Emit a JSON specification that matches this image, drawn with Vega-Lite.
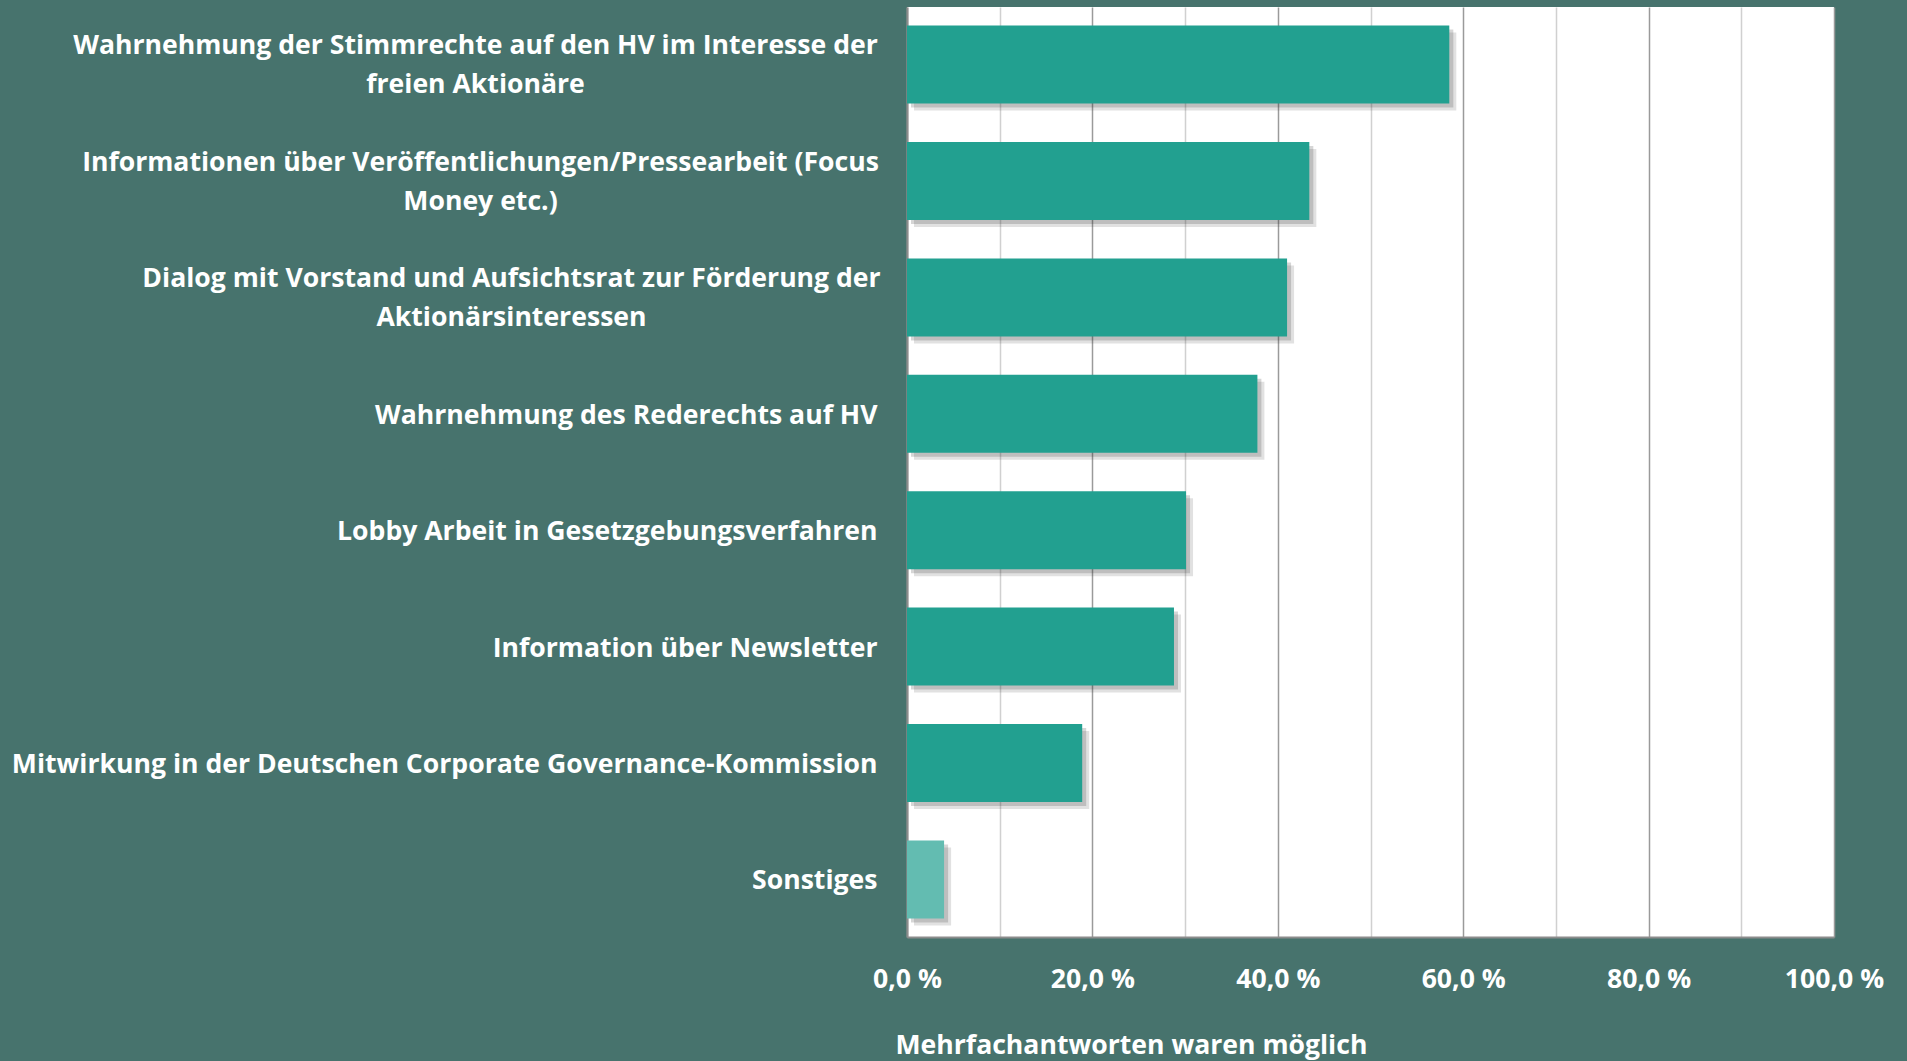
{
  "$schema": "https://vega.github.io/schema/vega-lite/v6.json",
  "width": 927,
  "height": 930,
  "autosize": {"type": "none"},
  "padding": {"left": 907, "top": 7, "right": 73, "bottom": 124},
  "background": "#47736D",
  "config": {"view": {"fill": "white", "stroke": null}},
  "data": {
    "values": [
      {"item": "Wahrnehmung der Stimmrechte auf den HV im Interesse der|freien Aktionäre", "pct": 58.5},
      {"item": "Informationen über Veröffentlichungen/Pressearbeit (Focus|Money etc.)", "pct": 43.4},
      {"item": "Dialog mit Vorstand und Aufsichtsrat zur Förderung der|Aktionärsinteressen", "pct": 41.0},
      {"item": "Wahrnehmung des Rederechts auf HV", "pct": 37.8},
      {"item": "Lobby Arbeit in Gesetzgebungsverfahren", "pct": 30.1},
      {"item": "Information über Newsletter", "pct": 28.8},
      {"item": "Mitwirkung in der Deutschen Corporate Governance-Kommission", "pct": 18.9},
      {"item": "Sonstiges", "pct": 4.0}
    ]
  },
  "encoding": {
    "y": {
      "field": "item",
      "type": "nominal",
      "sort": null,
      "scale": {"paddingInner": 0.33, "paddingOuter": 0.16},
      "axis": {
        "title": null,
        "labelExpr": "split(datum.label, '|')",
        "labelColor": "white",
        "labelFont": "Open Sans",
        "labelFontSize": 26.6,
        "labelFontWeight": "bold",
        "labelLineHeight": 39,
        "labelAlign": {"condition": {"test": "indexof(datum.value, '|') >= 0", "value": "center"}, "value": "right"},
        "labelPadding": {
          "condition": [
            {"test": "indexof(datum.value, 'Stimmrechte') >= 0", "value": 432},
            {"test": "indexof(datum.value, 'Pressearbeit') >= 0", "value": 427},
            {"test": "indexof(datum.value, 'Aufsichtsrat') >= 0", "value": 396}
          ],
          "value": 30
        },
        "labelOffset": {"condition": {"test": "indexof(datum.value, '|') >= 0", "value": -18.2}, "value": 2},
        "labelLimit": 1000,
        "labelBaseline": "middle",
        "ticks": false,
        "domainColor": "#8c8c8c",
        "domainWidth": 2
      }
    },
    "x": {
      "field": "pct",
      "type": "quantitative",
      "scale": {"domain": [0, 100], "nice": false},
      "axis": {
        "values": [0, 10, 20, 30, 40, 50, 60, 70, 80, 90, 100],
        "labelExpr": "datum.value % 20 === 0 ? replace(format(datum.value, '.1f'), '.', ',') + ' %' : ''",
        "grid": true,
        "gridColor": {"condition": {"test": "datum.value % 20 === 0", "value": "#9a9a9a"}, "value": "#d0d0d0"},
        "gridWidth": 1.5,
        "ticks": false,
        "domainColor": "#8c8c8c",
        "domainWidth": 2,
        "labelColor": "white",
        "labelFont": "Open Sans",
        "labelFontSize": 26.6,
        "labelFontWeight": "bold",
        "labelPadding": 29,
        "labelFlush": false,
        "labelOverlap": false,
        "title": "Mehrfachantworten waren möglich",
        "titleColor": "white",
        "titleFont": "Open Sans",
        "titleFontSize": 26.6,
        "titleFontWeight": "bold",
        "titleAnchor": "start",
        "titleAlign": "left",
        "titleX": -12,
        "titleY": 108,
        "titleBaseline": "middle"
      }
    }
  },
  "layer": [
    {"mark": {"type": "bar", "color": "#333333", "opacity": 0.15, "xOffset": 7, "x2Offset": 7, "yOffset": 7, "y2Offset": 7}},
    {"mark": {"type": "bar", "color": "#333333", "opacity": 0.2, "xOffset": 4, "x2Offset": 4, "yOffset": 4, "y2Offset": 4}},
    {
      "mark": {"type": "bar"},
      "encoding": {
        "color": {"condition": {"test": "datum.item === 'Sonstiges'", "value": "#63BCB1"}, "value": "#22A090"}
      }
    }
  ]
}
